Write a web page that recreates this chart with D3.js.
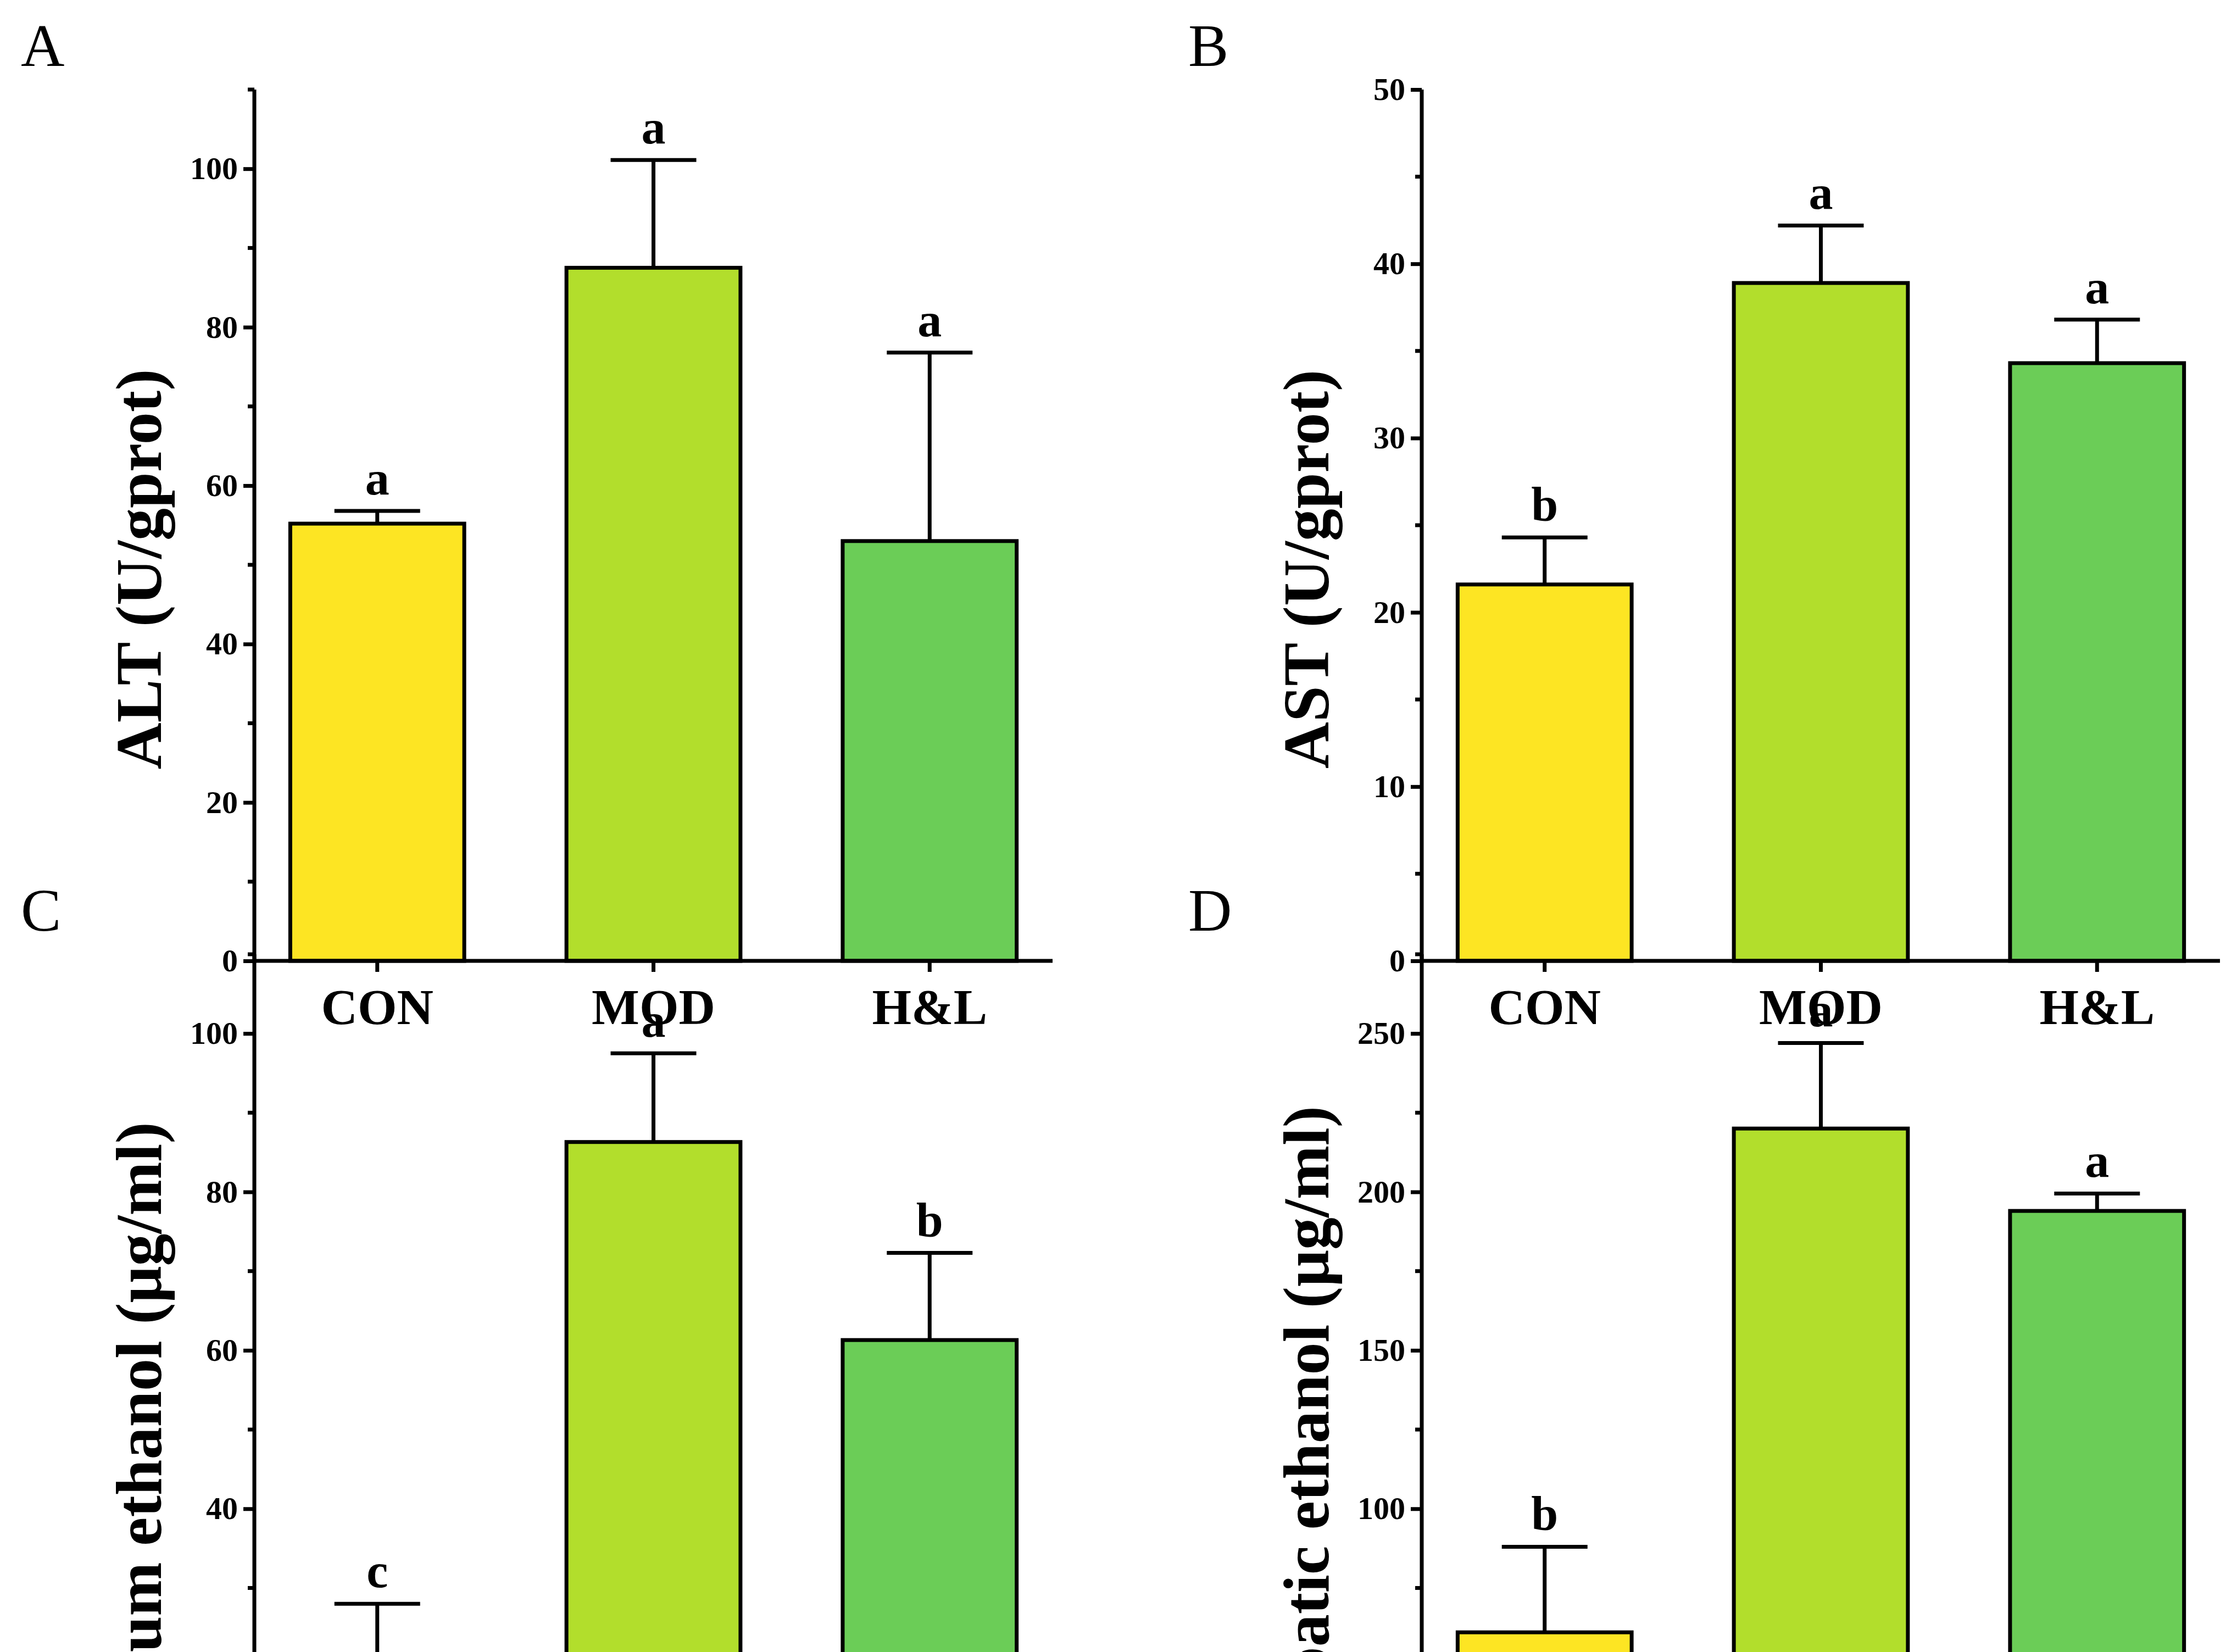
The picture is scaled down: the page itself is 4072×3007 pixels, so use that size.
<!DOCTYPE html>
<html><head><meta charset="utf-8">
<script src="https://cdn.jsdelivr.net/npm/d3@7"></script>
<style>body{margin:0;background:#fff}</style>
</head><body>
<svg id="chart" width="4072" height="3007"></svg>
<script>
const categories = ["CON", "MOD", "H&L"];
const colors = ["#fde523", "#b2de2c", "#6bcd57"];
const altMean = [55.2, 87.5, 53.0], altErr = [1.6, 13.6, 23.8], altLetters = ["a", "a", "a"];
const astMean = [21.6, 38.9, 34.3], astErr = [2.7, 3.3, 2.5], astLetters = ["b", "a", "a"];
const serumMean = [17.0, 86.3, 61.3], serumErr = [11.0, 11.2, 11.0], serumLetters = ["c", "a", "b"];
const hepMean = [61.0, 220.0, 194.0], hepErr = [27.0, 27.0, 5.5], hepLetters = ["b", "a", "a"];

const panels = [
  {tag: "A", title: "ALT (U/gprot)", mean: altMean, err: altErr, letters: altLetters, max: 110, major: [0,20,40,60,80,100], step: 10, ox: 0, oy: 0},
  {tag: "B", title: "AST (U/gprot)", mean: astMean, err: astErr, letters: astLetters, max: 50, major: [0,10,20,30,40,50], step: 5, ox: 2125, oy: 0},
  {tag: "C", title: "Serum ethanol (\u03bcg/ml)", mean: serumMean, err: serumErr, letters: serumLetters, max: 110, major: [0,20,40,60,80,100], step: 10, ox: 0, oy: 1574},
  {tag: "D", title: "Hepatic ethanol (\u03bcg/ml)", mean: hepMean, err: hepErr, letters: hepLetters, max: 275, major: [0,50,100,150,200,250], step: 25, ox: 2125, oy: 1574}
];

const svg = d3.select("#chart");
const font = "Liberation Serif, Times New Roman, serif";
const plotL = 463, plotR = 1916, plotT = 163, plotB = 1749;

panels.forEach(p => {
  const g = svg.append("g").attr("transform", `translate(${p.ox},${p.oy})`);
  const x = d3.scaleBand().domain(categories).range([plotL, plotR]).paddingInner(0.37).paddingOuter(0.13);
  const y = d3.scaleLinear().domain([0, p.max]).range([plotB, plotT]);

  g.append("text").attr("x", 38).attr("y", 120).attr("font-family", font)
    .attr("font-size", 110).text(p.tag);

  // bars
  g.selectAll(".bar").data(p.mean).enter().append("rect")
    .attr("x", (d, i) => x(categories[i]))
    .attr("width", x.bandwidth())
    .attr("y", d => y(d))
    .attr("height", d => plotB - y(d))
    .attr("fill", (d, i) => colors[i])
    .attr("stroke", "#000").attr("stroke-width", 7);

  // error bars + letters
  p.mean.forEach((m, i) => {
    const cx = x(categories[i]) + x.bandwidth() / 2;
    g.append("line").attr("x1", cx).attr("x2", cx).attr("y1", y(m)).attr("y2", y(m + p.err[i]))
      .attr("stroke", "#000").attr("stroke-width", 7);
    g.append("line").attr("x1", cx - 78).attr("x2", cx + 78).attr("y1", y(m + p.err[i])).attr("y2", y(m + p.err[i]))
      .attr("stroke", "#000").attr("stroke-width", 7);
    g.append("text").attr("x", cx).attr("y", y(m + p.err[i]) - 30)
      .attr("text-anchor", "middle").attr("font-family", font).attr("font-weight", "bold")
      .attr("font-size", 88).text(p.letters[i]);
  });

  // y axis
  const minor = d3.range(0, p.max + 0.001, p.step).filter(v => !p.major.includes(v));
  const ya = g.append("g").attr("transform", `translate(${plotL},0)`)
    .call(d3.axisLeft(y).tickValues(p.major).tickSize(20).tickPadding(10));
  ya.select(".domain").remove();
  ya.selectAll("line").attr("stroke-width", 7);
  ya.selectAll("text").attr("font-family", font).attr("font-weight", "bold").attr("font-size", 58);
  g.selectAll(".minor").data(minor).enter().append("line")
    .attr("x1", plotL - 12).attr("x2", plotL).attr("y1", d => y(d)).attr("y2", d => y(d))
    .attr("stroke", "#000").attr("stroke-width", 7);
  g.append("line").attr("x1", plotL).attr("x2", plotL).attr("y1", plotT).attr("y2", plotB + 3.5)
    .attr("stroke", "#000").attr("stroke-width", 7);

  // x axis
  const xa = g.append("g").attr("transform", `translate(0,${plotB})`)
    .call(d3.axisBottom(x).tickSize(20).tickPadding(30));
  xa.select(".domain").remove();
  xa.selectAll("line").attr("stroke-width", 7);
  xa.selectAll("text").attr("font-family", font).attr("font-weight", "bold").attr("font-size", 92);
  g.append("line").attr("x1", plotL).attr("x2", plotR).attr("y1", plotB).attr("y2", plotB)
    .attr("stroke", "#000").attr("stroke-width", 7);

  // y title
  g.append("text").attr("transform", `translate(${plotL - 170},${(plotT + plotB) / 2 + 80}) rotate(-90)`)
    .attr("text-anchor", "middle").attr("font-family", font).attr("font-weight", "bold")
    .attr("font-size", 118).text(p.title);
});
</script>
</body></html>
